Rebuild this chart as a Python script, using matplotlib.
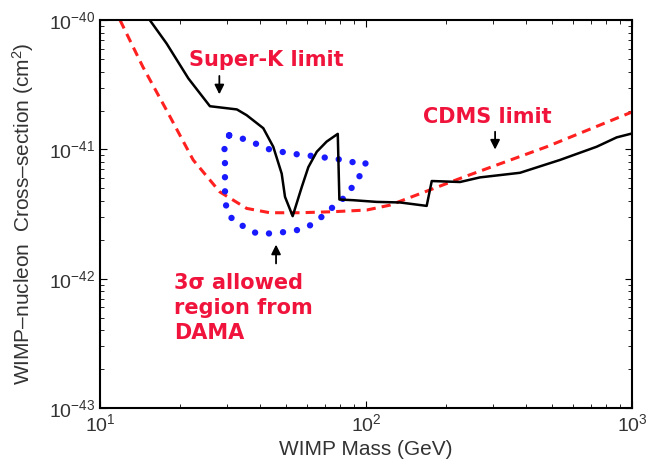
import matplotlib.pyplot as plt
import numpy as np

plt.rcParams['font.family'] = ['Liberation Sans', 'DejaVu Sans']
plt.rcParams['mathtext.fontset'] = 'custom'
plt.rcParams['mathtext.rm'] = 'Liberation Sans'
plt.rcParams['mathtext.it'] = 'Liberation Sans:italic'

# Super-K limit (GeV, cm^2)
superk_mass = [15.4, 17.8, 21.5, 25.9, 32.7, 35.6, 41.1, 44.8, 48.2, 49.6, 53.0,
               57.3, 60.7, 65.3, 71.1, 78.3, 79.4, 89.6, 109.6, 134.3, 169.0,
               176.6, 225.5, 268.0, 379.0, 536.0, 736.0, 875.0, 1000.0]
superk_xsec = [1.0e-40, 6.6e-41, 3.54e-41, 2.16e-41, 2.04e-41, 1.84e-41, 1.46e-41,
               1.05e-41, 6.5e-42, 4.3e-42, 3.05e-42, 5.1e-42, 7.3e-42, 9.6e-42,
               1.15e-41, 1.32e-41, 4.1e-42, 4.05e-42, 3.93e-42, 3.89e-42, 3.66e-42,
               5.7e-42, 5.6e-42, 6.08e-42, 6.6e-42, 8.3e-42, 1.05e-41, 1.24e-41,
               1.33e-41]

# CDMS limit
cdms_mass = [11.9, 14.5, 17.8, 22.4, 28.2, 35.6, 43.5, 56.5, 75.2, 100.6, 123.0,
             232.0, 478.0, 1000.0]
cdms_xsec = [1.0e-40, 4.35e-41, 2.01e-41, 8.3e-42, 4.7e-42, 3.5e-42, 3.24e-42,
             3.24e-42, 3.3e-42, 3.4e-42, 3.71e-42, 6.1e-42, 1.05e-41, 1.95e-41]

# DAMA 3 sigma allowed region (closed contour)
dama_mass = [30.6, 36.6, 41.7, 51.8, 60.1, 68.7, 78.7, 87.1, 99.8, 95.7, 89.6,
             85.7, 78.7, 71.1, 66.2, 59.0, 53.0, 44.6, 38.8, 35.6, 32.0, 29.9,
             29.5, 29.5, 29.5, 29.3, 30.6]
dama_xsec = [1.29e-41, 1.17e-41, 1.02e-41, 9.3e-42, 9.0e-42, 8.7e-42, 8.4e-42,
             8.0e-42, 7.9e-42, 6.45e-42, 5.3e-42, 4.57e-42, 3.83e-42, 3.3e-42,
             2.84e-42, 2.45e-42, 2.34e-42, 2.24e-42, 2.24e-42, 2.48e-42,
             2.75e-42, 3.35e-42, 4.8e-42, 6.3e-42, 7.9e-42, 9.9e-42, 1.29e-41]

red = '#f0143c'
note = dict(color=red, fontsize=15, fontweight='bold', family='DejaVu Sans')

fig = plt.figure(figsize=(6.49, 4.69), dpi=100)
ax = fig.add_axes([0.154, 0.130, 0.820, 0.827])

ax.plot(cdms_mass, cdms_xsec, color='#ff2020', lw=2.2, ls=(0, (3, 2)))
ax.plot(dama_mass, dama_xsec, color='#1a1aff', lw=4.6, ls=(0, (0.01, 2.2)),
        dash_capstyle='round')
ax.plot(superk_mass, superk_xsec, color='black', lw=1.8)

ax.set_xscale('log')
ax.set_yscale('log')
ax.set_xlim(10, 1000)
ax.set_ylim(1e-43, 1e-40)
ax.tick_params(which='both', direction='in', top=True, right=True, labelsize=14,
               labelcolor='#333333')
ax.tick_params(which='major', length=5)
ax.tick_params(which='minor', length=3)
for s in ax.spines.values():
    s.set_linewidth(1.5)

ax.set_xlabel('WIMP Mass (GeV)', fontsize=15, color='#333333', labelpad=4)
ax.set_ylabel('WIMP\u2013nucleon  Cross\u2013section (cm$^2$)', fontsize=15,
              color='#333333', labelpad=9)

arrow = dict(arrowstyle='-|>', color='black', lw=1.3, mutation_scale=14)
ax.annotate('', xy=(28.1, 2.54e-41), xytext=(28.1, 3.89e-41), arrowprops=arrow)
ax.text(21.6, 4.41e-41, 'Super-K limit', va='baseline', **note)

ax.annotate('', xy=(305.5, 9.5e-42), xytext=(305.5, 1.44e-41), arrowprops=arrow)
ax.text(163.7, 1.6e-41, 'CDMS limit', va='baseline', **note)

ax.annotate('', xy=(45.9, 1.93e-42), xytext=(45.9, 1.25e-42), arrowprops=arrow)
ax.text(19.0, 1.107e-42, '3\u03c3 allowed\nregion from\nDAMA', va='top',
        linespacing=1.3, **note)

fig.savefig('out.png', dpi=100)
